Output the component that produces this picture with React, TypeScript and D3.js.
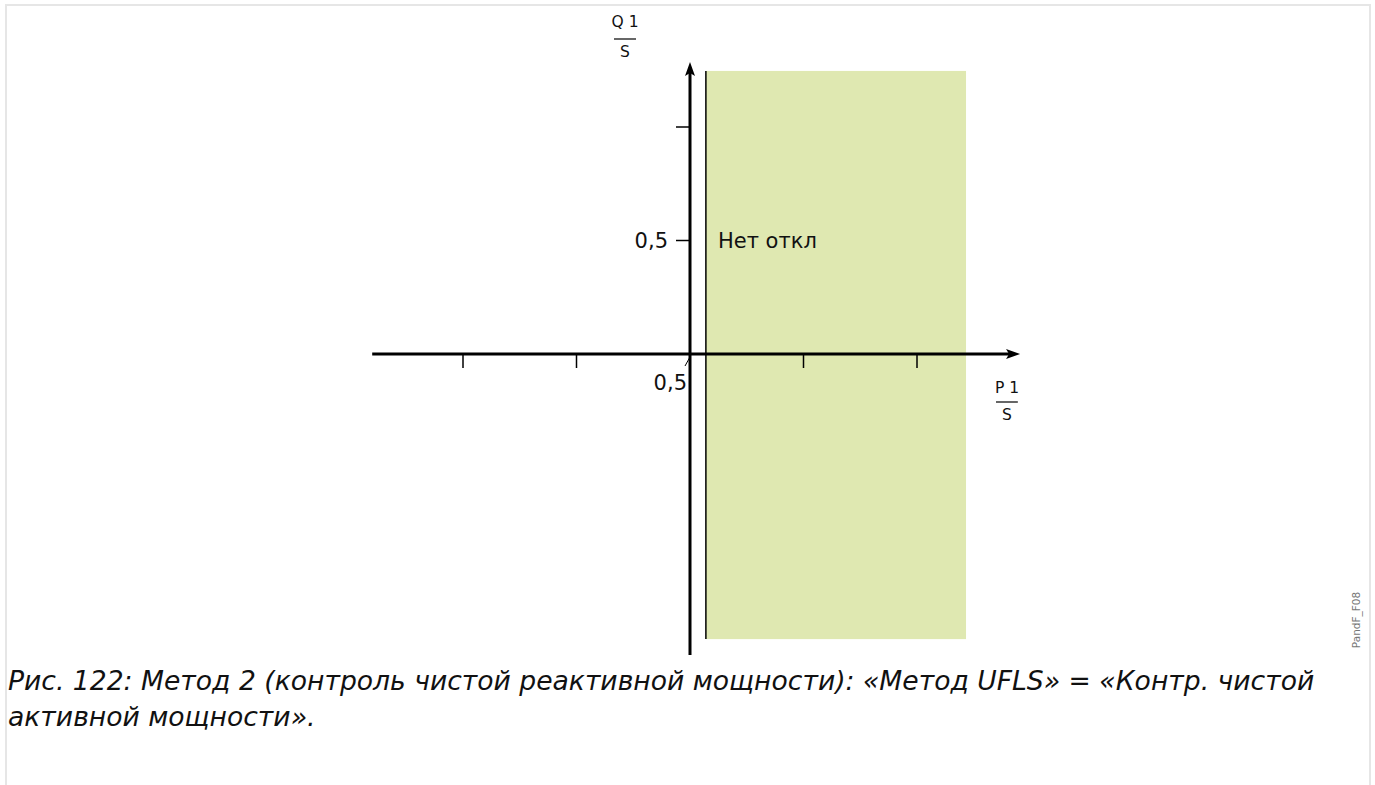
import React from "react";
import * as d3 from "d3";

const xTicks = [-1, -0.5, 0.5, 1];
const yTicks = [0.5, 1];
const yTickLabels = ["0,5", ""];
const regionP = [0.07, 1.216];
const regionQ = [-1.256, 1.247];
const axisP = [-1.4, 1.454];
const axisQ = [-1.326, 1.286];
const regionLabel = "Нет откл";
const thresholdLabel = "0,5";
const caption1 = "Рис. 122: Метод 2 (контроль чистой реактивной мощности): «Метод UFLS» = «Контр. чистой";
const caption2 = "активной мощности».";
const figId = "PandF_F08";

export default function App() {
  const W = 1375, H = 785;
  const x = d3.scaleLinear().domain([0, 1]).range([690, 917]);
  const y = d3.scaleLinear().domain([0, 1]).range([354, 127]);
  const font = "'DejaVu Sans', sans-serif";
  const x0 = x(0), y0 = y(0);
  return (
    <svg width={W} height={H} style={{ position: "absolute", left: 0, top: 0 }}>
      <rect x={0} y={0} width={W} height={H} fill="#fff" />
      {/* frame */}
      <path d={`M6,${H} V5 H1370 V${H}`} fill="none" stroke="#e6e6e6" strokeWidth={2} />
      {/* region */}
      <rect x={x(regionP[0])} y={y(regionQ[1])} width={x(regionP[1]) - x(regionP[0])} height={y(regionQ[0]) - y(regionQ[1])} fill="#dfe8b1" />
      <line x1={x(regionP[0])} x2={x(regionP[0])} y1={y(regionQ[1])} y2={y(regionQ[0])} stroke="#000" strokeWidth={1.5} />
      {/* x axis */}
      <line x1={x(axisP[0])} x2={x(axisP[1]) - 8} y1={y0} y2={y0} stroke="#000" strokeWidth={3} />
      <path d={`M${x(axisP[1])},${y0} L${x(axisP[1]) - 14},${y0 - 5} L${x(axisP[1]) - 11},${y0} L${x(axisP[1]) - 14},${y0 + 5} Z`} fill="#000" />
      {xTicks.map((t) => (
        <line key={t} x1={x(t)} x2={x(t)} y1={y0} y2={y0 + 14} stroke="#000" strokeWidth={1.5} />
      ))}
      {/* y axis */}
      <line x1={x0} x2={x0} y1={y(axisQ[1]) + 8} y2={y(axisQ[0])} stroke="#000" strokeWidth={3} />
      <path d={`M${x0},${y(axisQ[1])} L${x0 - 5},${y(axisQ[1]) + 14} L${x0},${y(axisQ[1]) + 11} L${x0 + 5},${y(axisQ[1]) + 14} Z`} fill="#000" />
      {yTicks.map((t, i) => (
        <g key={t}>
          <line x1={x0 - 14} x2={x0} y1={y(t)} y2={y(t)} stroke="#000" strokeWidth={1.5} />
          {yTickLabels[i] && (
            <text x={x0 - 22} y={y(t)} dy="0.35em" textAnchor="end" fontFamily={font} fontSize={21} fill="#111">{yTickLabels[i]}</text>
          )}
        </g>
      ))}
      {/* threshold label */}
      <line x1={x0 - 5} y1={y0 + 12} x2={x0} y2={y0 + 3} stroke="#000" strokeWidth={1} />
      <text x={x0 - 3} y={y0 + 36} textAnchor="end" fontFamily={font} fontSize={21} fill="#111">{thresholdLabel}</text>
      {/* region label */}
      <text x={718} y={y(0.5)} dy="0.35em" fontFamily={font} fontSize={21} fill="#111">{regionLabel}</text>
      {/* Q/S label */}
      <g fontFamily={font} fontSize={15.5} fill="#111" textAnchor="middle">
        <text x={625} y={27}>Q 1</text>
        <line x1={614} x2={636} y1={39} y2={39} stroke="#000" strokeWidth={1.2} />
        <text x={625} y={57}>S</text>
        <text x={1007} y={393}>P 1</text>
        <line x1={996} x2={1018} y1={402} y2={402} stroke="#000" strokeWidth={1.2} />
        <text x={1007} y={420}>S</text>
      </g>
      {/* fig id */}
      <text transform={`translate(1360,620) rotate(-90)`} textAnchor="middle" fontFamily={font} fontSize={10.5} fill="#777">{figId}</text>
      {/* caption */}
      <g fontFamily={font} fontSize={26.6} fontStyle="italic" fill="#111">
        <text x={8} y={690}>{caption1}</text>
        <text x={8} y={726}>{caption2}</text>
      </g>
    </svg>
  );
}
